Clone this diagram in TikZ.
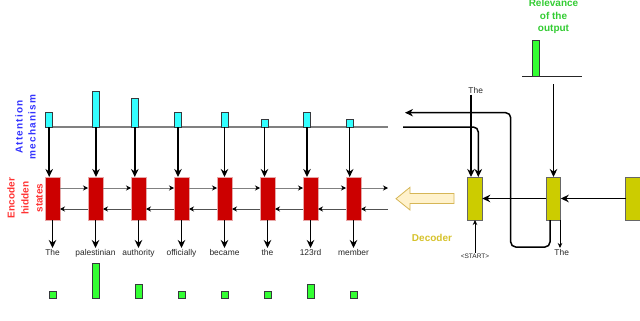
\documentclass[tikz,border=0pt]{standalone}
\usepackage{fontspec}
\setmainfont{Liberation Sans}
\newfontfamily\spacedfont[LetterSpace=12]{Liberation Sans}
\usetikzlibrary{arrows.meta,calc}
\definecolor{encred}{HTML}{CC0000}
\definecolor{encborder}{HTML}{E8A8A8}
\definecolor{decfill}{HTML}{CCCC00}
\definecolor{decborder}{HTML}{666666}
\definecolor{cyanbar}{HTML}{33FFFF}
\definecolor{greenbar}{HTML}{33FF33}
\definecolor{barborder}{HTML}{36393D}
\definecolor{attblue}{HTML}{3333FF}
\definecolor{enclbl}{HTML}{FF3333}
\definecolor{relgreen}{HTML}{33CC33}
\definecolor{decgold}{HTML}{D6C22B}
\definecolor{txt}{HTML}{262626}
\definecolor{basegray}{HTML}{808080}
\definecolor{hollowfill}{HTML}{FFF2CC}
\definecolor{hollowdraw}{HTML}{D6B656}
\begin{document}
\begin{tikzpicture}[x=1pt,y=-1pt,
  ebox/.style={draw=encborder, fill=encred, minimum width=15pt, minimum height=43pt, inner sep=0pt, outer sep=0pt, line width=0.6pt},
  dbox/.style={draw=decborder, fill=decfill, minimum width=14.5pt, minimum height=43pt, inner sep=0pt, outer sep=0pt, line width=0.7pt},
  abar/.style={draw=barborder, fill=cyanbar, minimum width=7pt, inner sep=0pt, outer sep=0pt, anchor=south, line width=0.7pt},
  gbar/.style={draw=barborder, fill=greenbar, minimum width=7pt, inner sep=0pt, outer sep=0pt, anchor=south, line width=0.7pt},
  word/.style={font=\fontsize{8.4}{10}\selectfont, text=txt, inner sep=1pt},
  bigarrow/.style={draw=black, line width=1.5pt, -{Stealth[length=8pt,width=7.5pt]}},
  thinarrow/.style={draw=black, line width=0.7pt, -{Stealth[length=5pt,width=4.5pt]}},
  fwd/.style={draw=basegray, line width=1pt, -{Stealth[length=5pt,width=5pt,color=black]}},
  bwd/.style={draw=txt!80, line width=0.8pt, -{Stealth[length=5pt,width=5pt,color=black]}},
  baseline/.style={draw=basegray, line width=1.2pt}
]
\useasboundingbox (0,0) rectangle (640,321);

% attention baseline
\coordinate (attL) at (45,127);
\coordinate (attR0) at (388,127);
\draw[baseline] (attL) -- (attR0);

% encoder columns
\foreach \i/\x/\ax/\ah/\gh/\w in {
  1/52.5/49.2/14.3/7.3/The,
  2/95.5/96/35.3/35.3/palestinian,
  3/138.5/134.8/28.7/14/authority,
  4/181.5/178/14.3/7.3/officially,
  5/224.5/224.5/14.7/7.3/became,
  6/267.5/264.5/7.3/7.3/the,
  7/310.5/307/14.7/14.3/123rd,
  8/353.5/349.7/7.3/7.3/member}{
  \node[ebox] (e\i) at (\x,198.5) {};
  \node[abar, minimum height=\ah pt] (a\i) at (\ax,127) {};
  \draw[bigarrow] (a\i.south) -- (a\i.south |- e\i.north);
  \node[word, anchor=north] (w\i) at (\x,248) {\w};
  \draw[bigarrow] (e\i.south) -- (w\i.north);
  \node[gbar, minimum height=\gh pt] (g\i) at (\x,298.3) {};
}

% recurrent arrows
\foreach \i [evaluate=\i as \j using int(\i+1)] in {1,...,7}{
  \draw[fwd] ([yshift=10.5pt]e\i.east) -- ([yshift=10.5pt]e\j.west);
  \draw[bwd] ([yshift=-10.5pt]e\j.west) -- ([yshift=-10.5pt]e\i.east);
}
\coordinate (fEnd) at (388,188);
\coordinate (bStart) at (388,209);
\draw[fwd] ([yshift=10.5pt]e8.east) -- (fEnd);
\draw[bwd] (bStart) -- ([yshift=-10.5pt]e8.east);

% left labels
\node[rotate=90, align=center, text=attblue, font=\spacedfont\bfseries\fontsize{10}{13}\selectfont] (attlbl) at (25.5,127) {Attention\\mechanism};
\node[rotate=90, align=center, text=enclbl, font=\bfseries\fontsize{10}{14}\selectfont] (enclabel) at (25,198) {Encoder\\hidden\\states};

% hollow arrow
\draw[fill=hollowfill, draw=hollowdraw, line width=0.8pt]
  (396,198.7) -- (410,187.3) -- (410,193.5) -- (454,193.5) -- (454,203.5) -- (410,203.5) -- (410,210) -- cycle;

% decoder
\node[dbox] (d1) at (475,198.5) {};
\node[dbox] (d2) at (553.5,198.5) {};
\node[dbox] (d3) at (633,198.5) {};
\draw[bigarrow] (d3.west) -- (d2.east);
\draw[bigarrow] (d2.west) -- (d1.east);

\node[text=decgold, font=\bfseries\fontsize{10}{12}\selectfont] (declbl) at (432,238.3) {Decoder};

% relevance
\node[align=center, text=relgreen, font=\bfseries\fontsize{10}{12.7}\selectfont] (rellbl) at (553.5,16.7) {Relevance\\of the\\output};
\coordinate (rbL) at (522,76.7);
\coordinate (rbR) at (582.3,76.7);
\draw[draw=txt, line width=1pt] (rbL) -- (rbR);
\node[gbar, minimum height=36pt, minimum width=7.3pt] (rbar) at (535.7,76.7) {};
\coordinate (rTop) at (553.5,84.3);
\draw[bigarrow] (rTop) -- (d2.north);

% decoder inputs
\node[word, anchor=north] (tTop) at (475.7,86) {The};
\coordinate (d1a) at ([xshift=-4pt]d1.north);
\draw[bigarrow] (tTop.south -| d1a) -- (d1a);
\coordinate (attR) at (403,127);
\coordinate (d1b) at ([xshift=3.3pt]d1.north);
\draw[bigarrow, rounded corners=5pt] (attR) -| (d1b);

% feedback loop
\coordinate (fbEnd) at (405,112.7);
\coordinate (d2b) at ([xshift=-3.5pt]d2.south);
\draw[bigarrow, rounded corners=5pt] (d2b) -- ++(0,27) -| (510.7,112.7) -- (fbEnd);

% start and output
\node[word, font=\fontsize{6.5}{8}\selectfont] (start) at (475,256) {<START>};
\draw[thinarrow] (start.north) -- (d1.south);
\coordinate (d2c) at ([xshift=6.5pt]d2.south);
\node[word, anchor=north] (tOut) at (561.7,248) {The};
\draw[thinarrow] (d2c) -- (d2c |- tOut.north);
\end{tikzpicture}
\end{document}
